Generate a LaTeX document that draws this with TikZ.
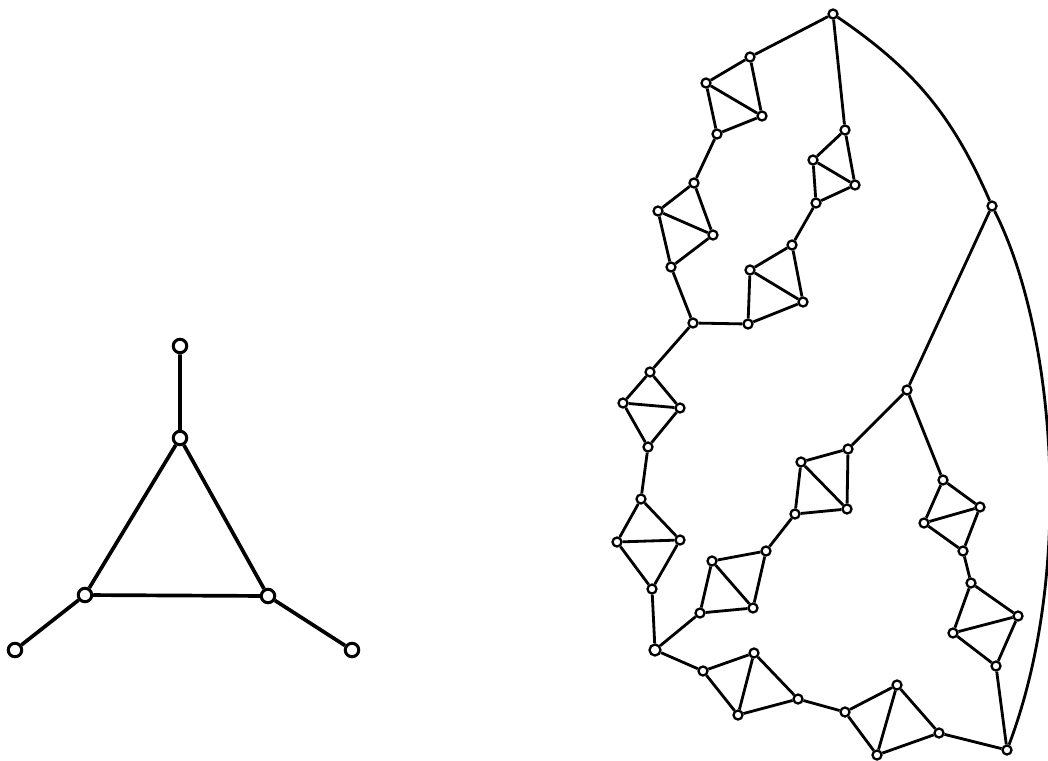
\documentclass[tikz,border=0pt]{standalone}
\usetikzlibrary{positioning}

\begin{document}
\begin{tikzpicture}[x=0.2mm, y=-0.2mm,
    vtx/.style={circle, draw, fill=white, line width=1.3pt, inner sep=0pt,
                minimum size=1.8mm},
    bigvtx/.style={circle, draw, fill=white, line width=1.7pt, inner sep=0pt,
                   minimum size=2.7mm},
    edge/.style={line width=1.6pt},
    thick edge/.style={line width=2.1pt}
  ]
  \useasboundingbox (0,0) rectangle (1048,760);

  % left graph
  \node[bigvtx] (lt)  at (180,346) {};
  \node[bigvtx] (lc)  at (180,438) {};
  \node[bigvtx] (lbl) at (85,595)  {};
  \node[bigvtx] (lbr) at (268,596) {};
  \node[bigvtx] (ll)  at (15,650)  {};
  \node[bigvtx] (lr)  at (352,650) {};

  \draw[thick edge] (lt)--(lc) (lc)--(lbl) (lc)--(lbr) (lbl)--(lbr)
                    (lbl)--(ll) (lbr)--(lr);

  % right graph: cut vertices
  \node[vtx] (top)   at (833,14)  {};
  \node[vtx] (rim)   at (992,206) {};
  \node[vtx] (mid)   at (907,390) {};
  \node[vtx] (join)  at (693,323) {};
  \node[vtx, minimum size=2.2mm] (base) at (655,650) {};
  \node[vtx] (end)   at (1007,750) {};

  % right graph: blocks
  \node[vtx] (d1-a) at (750,57)  {}; \node[vtx] (d1-b) at (706,83)  {};
  \node[vtx] (d1-c) at (762,116) {}; \node[vtx] (d1-d) at (717,134) {};
  \node[vtx] (d2-a) at (694,183) {}; \node[vtx] (d2-b) at (658,211) {};
  \node[vtx] (d2-c) at (713,235) {}; \node[vtx] (d2-d) at (671,267) {};
  \node[vtx] (d3-a) at (748,324) {}; \node[vtx] (d3-b) at (750,270) {};
  \node[vtx] (d3-c) at (803,302) {}; \node[vtx] (d3-d) at (792,245) {};
  \node[vtx] (d4-a) at (816,203) {}; \node[vtx] (d4-b) at (813,160) {};
  \node[vtx] (d4-c) at (855,185) {}; \node[vtx] (d4-d) at (845,130) {};
  \node[vtx] (d5-a) at (650,372) {}; \node[vtx] (d5-b) at (623,403) {};
  \node[vtx] (d5-c) at (680,408) {}; \node[vtx] (d5-d) at (648,447) {};
  \node[vtx] (d6-a) at (641,499) {}; \node[vtx] (d6-b) at (617,542) {};
  \node[vtx] (d6-c) at (680,540) {}; \node[vtx] (d6-d) at (652,589) {};
  \node[vtx] (d7-a) at (700,613) {}; \node[vtx] (d7-b) at (712,561) {};
  \node[vtx] (d7-c) at (753,608) {}; \node[vtx] (d7-d) at (766,551) {};
  \node[vtx] (d8-a) at (795,514) {}; \node[vtx] (d8-b) at (801,462) {};
  \node[vtx] (d8-c) at (847,509) {}; \node[vtx] (d8-d) at (848,449) {};
  \node[vtx] (d9-a) at (943,480) {}; \node[vtx] (d9-b) at (924,523) {};
  \node[vtx] (d9-c) at (980,507) {}; \node[vtx] (d9-d) at (963,551) {};
  \node[vtx] (d10-a) at (971,583)  {}; \node[vtx] (d10-b) at (953,633) {};
  \node[vtx] (d10-c) at (1018,616) {}; \node[vtx] (d10-d) at (996,666) {};
  \node[vtx] (d11-a) at (703,671) {}; \node[vtx] (d11-b) at (754,653) {};
  \node[vtx] (d11-c) at (738,715) {}; \node[vtx] (d11-d) at (798,699) {};
  \node[vtx] (d12-a) at (845,712) {}; \node[vtx] (d12-b) at (897,685) {};
  \node[vtx] (d12-c) at (877,755) {}; \node[vtx] (d12-d) at (939,733) {};

  \foreach \d in {1,...,12}
    \draw[edge] (d\d-a)--(d\d-b)--(d\d-d)--(d\d-c)--(d\d-a) (d\d-b)--(d\d-c);

  \draw[edge] (top)--(d1-a) (d1-d)--(d2-a) (d2-d)--(join)
              (join)--(d3-a) (d3-d)--(d4-a) (d4-d)--(top)
              (join)--(d5-a) (d5-d)--(d6-a) (d6-d)--(base)
              (base)--(d7-a) (d7-d)--(d8-a) (d8-d)--(mid)
              (mid)--(rim) (mid)--(d9-a) (d9-d)--(d10-a) (d10-d)--(end)
              (base)--(d11-a) (d11-d)--(d12-a) (d12-d)--(end);

  \draw[edge] (top) to[bend left=16] (rim);
  \draw[edge] (rim) .. controls (1055,330) and (1075,570) .. (end);
\end{tikzpicture}
\end{document}
